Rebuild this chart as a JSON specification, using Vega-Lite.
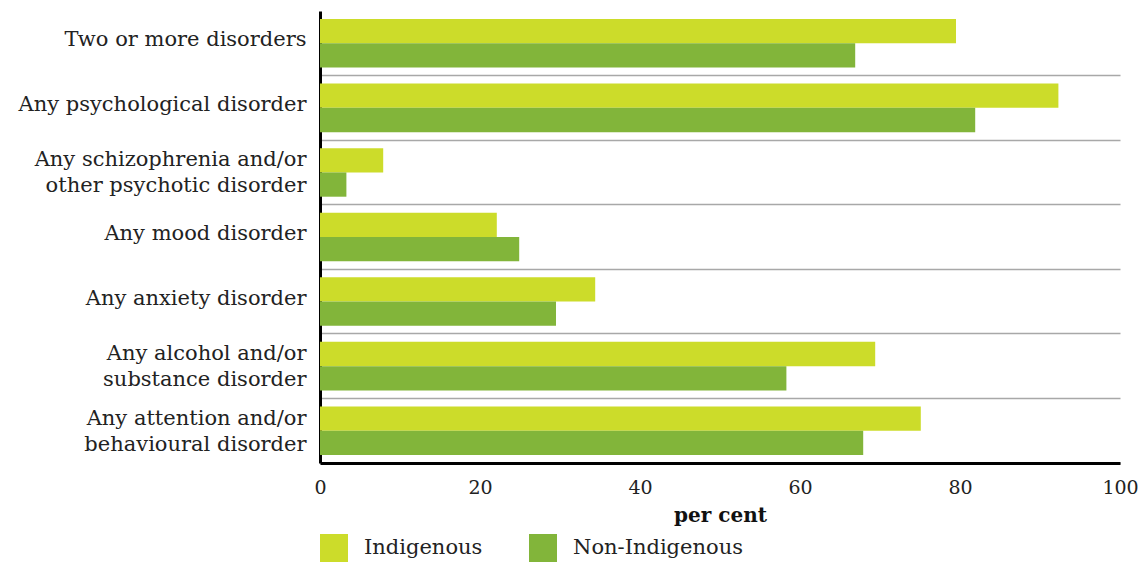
{
  "$schema": "https://vega.github.io/schema/vega-lite/v6.json",
  "width": 800,
  "height": 452,
  "autosize": "none",
  "padding": {"left": 320, "top": 11, "right": 22, "bottom": 99},
  "background": "white",
  "config": {
    "view": {"stroke": null},
    "font": "DejaVu Serif"
  },
  "data": {
    "values": [
      {"disorder": "Two or more disorders", "group": "Indigenous", "value": 79.5},
      {"disorder": "Two or more disorders", "group": "Non-Indigenous", "value": 66.9},
      {"disorder": "Any psychological disorder", "group": "Indigenous", "value": 92.3},
      {"disorder": "Any psychological disorder", "group": "Non-Indigenous", "value": 81.9},
      {"disorder": "Any schizophrenia and/or other psychotic disorder", "group": "Indigenous", "value": 7.9},
      {"disorder": "Any schizophrenia and/or other psychotic disorder", "group": "Non-Indigenous", "value": 3.3},
      {"disorder": "Any mood disorder", "group": "Indigenous", "value": 22.1},
      {"disorder": "Any mood disorder", "group": "Non-Indigenous", "value": 24.9},
      {"disorder": "Any anxiety disorder", "group": "Indigenous", "value": 34.4},
      {"disorder": "Any anxiety disorder", "group": "Non-Indigenous", "value": 29.5},
      {"disorder": "Any alcohol and/or substance disorder", "group": "Indigenous", "value": 69.4},
      {"disorder": "Any alcohol and/or substance disorder", "group": "Non-Indigenous", "value": 58.3},
      {"disorder": "Any attention and/or behavioural disorder", "group": "Indigenous", "value": 75.1},
      {"disorder": "Any attention and/or behavioural disorder", "group": "Non-Indigenous", "value": 67.9}
    ]
  },
  "mark": {"type": "bar"},
  "encoding": {
    "y": {
      "field": "disorder",
      "type": "nominal",
      "sort": null,
      "scale": {"paddingInner": 0, "paddingOuter": 0},
      "axis": {
        "title": null,
        "domainColor": "black",
        "domainWidth": 3,
        "ticks": false,
        "labelFontSize": 21,
        "labelColor": "#222222",
        "labelPadding": 14,
        "labelLineHeight": 26,
        "labelLimit": 400,
        "labelOffset": {"condition": {"test": "indexof(datum.label, 'and/or') >= 0", "value": -12}, "value": -3},
        "grid": true,
        "gridColor": "#a8a8a8",
        "gridWidth": 1.5,
        "bandPosition": 1,
        "labelExpr": "indexof(datum.label, 'and/or') >= 0 ? [slice(datum.label, 0, indexof(datum.label, 'and/or') + 6), slice(datum.label, indexof(datum.label, 'and/or') + 7)] : datum.label"
      }
    },
    "yOffset": {
      "field": "group",
      "type": "nominal",
      "scale": {"paddingOuter": 0.33, "paddingInner": 0}
    },
    "x": {
      "field": "value",
      "type": "quantitative",
      "scale": {"domain": [0, 100], "nice": false},
      "axis": {
        "title": "per cent",
        "titleFontSize": 20,
        "titleFontWeight": "bold",
        "titleColor": "#111111",
        "titlePadding": 8,
        "values": [0, 20, 40, 60, 80, 100],
        "grid": false,
        "ticks": false,
        "domainColor": "black",
        "domainWidth": 3,
        "labelFontSize": 19,
        "labelColor": "#222222",
        "labelPadding": 15,
        "labelFlush": false
      }
    },
    "color": {
      "field": "group",
      "type": "nominal",
      "scale": {"domain": ["Indigenous", "Non-Indigenous"], "range": ["#ccdc2a", "#82b53a"]},
      "legend": {
        "title": null,
        "orient": "bottom",
        "direction": "horizontal",
        "symbolType": "square",
        "symbolSize": 784,
        "symbolStrokeWidth": 0,
        "labelFontSize": 21,
        "labelColor": "#222222",
        "labelOffset": 16,
        "labelLimit": 400,
        "columnPadding": 46,
        "offset": 9
      }
    }
  }
}
